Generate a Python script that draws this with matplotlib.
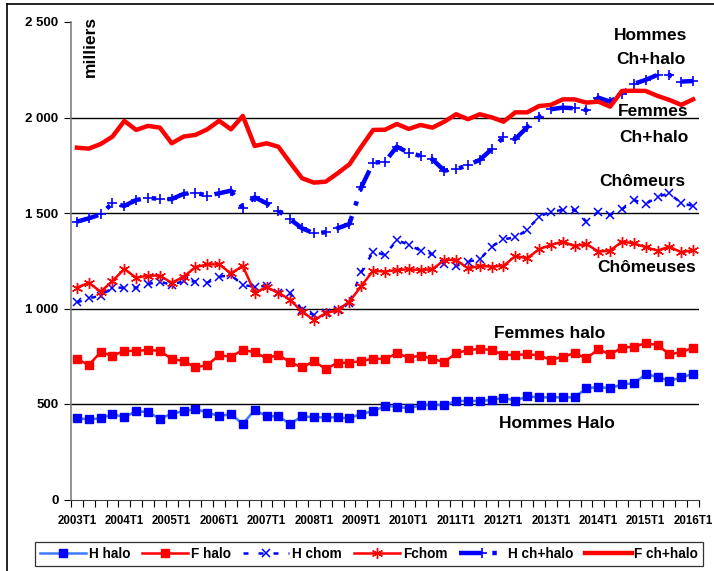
import numpy as np
import matplotlib
matplotlib.use('Agg')
import matplotlib.pyplot as plt
from matplotlib.lines import Line2D

plt.rcParams['font.family'] = ['Liberation Sans', 'DejaVu Sans']
plt.rcParams['font.weight'] = 'bold'

# quarters 2003T1 .. 2016T1
years = list(range(2003, 2017))
tick_labels = ['%dT1' % y for y in years]
n_q = 53

h_halo = [425, 420, 425, 446, 432, 462, 458, 423, 449, 462, 474, 455, 437, 447, 395, 469, 436, 436,
          395, 437, 430, 430, 430, 425, 449, 462, 490, 486, 477, 493, 497, 493, 516, 516, 516, 521,
          533, 517, 540, 535, 535, 535, 535, 582, 589, 582, 603, 608, 655, 643, 620, 640, 657]
f_halo = [736, 704, 771, 753, 778, 778, 783, 778, 736, 725, 692, 704, 755, 748, 783, 771, 739, 758,
          718, 692, 724, 683, 716, 716, 725, 737, 736, 765, 743, 753, 736, 720, 765, 783, 788, 783,
          757, 757, 760, 755, 730, 748, 765, 739, 786, 760, 795, 800, 818, 809, 760, 771, 795]
h_chom = [1032, 1053, 1067, 1109, 1109, 1109, 1128, 1141, 1123, 1144, 1141, 1135, 1166, 1175, 1123,
          1114, 1118, 1080, 1080, 992, 966, 978, 992, 1031, 1189, 1298, 1280, 1359, 1333, 1303, 1284,
          1233, 1223, 1245, 1257, 1324, 1362, 1373, 1411, 1481, 1507, 1516, 1516, 1455, 1507, 1490,
          1519, 1568, 1547, 1585, 1603, 1551, 1537]
f_chom = [1109, 1135, 1088, 1144, 1207, 1161, 1172, 1172, 1135, 1166, 1216, 1231, 1231, 1184, 1223,
          1083, 1111, 1083, 1045, 983, 940, 975, 992, 1036, 1118, 1198, 1193, 1202, 1205, 1202, 1205,
          1254, 1254, 1210, 1223, 1219, 1223, 1275, 1263, 1310, 1333, 1350, 1327, 1338, 1298, 1303,
          1350, 1341, 1321, 1303, 1324, 1294, 1306]
h_chhalo = [1455, 1472, 1493, 1551, 1537, 1568, 1580, 1573, 1573, 1600, 1606, 1591, 1603, 1617, 1525,
            1582, 1551, 1511, 1467, 1420, 1394, 1399, 1420, 1443, 1635, 1763, 1769, 1847, 1816, 1799,
            1781, 1722, 1729, 1751, 1778, 1834, 1897, 1888, 1949, 2001, 2043, 2052, 2048, 2039, 2104,
            2083, 2123, 2176, 2197, 2223, 2223, 2188, 2191]
f_chhalo = [1842, 1837, 1861, 1900, 1982, 1935, 1956, 1947, 1865, 1900, 1909, 1938, 1983, 1938, 2008,
            1851, 1865, 1847, 1763, 1682, 1659, 1664, 1708, 1755, 1847, 1935, 1936, 1966, 1940, 1961,
            1947, 1978, 2017, 1991, 2017, 2001, 1978, 2027, 2027, 2060, 2066, 2095, 2095, 2078, 2083,
            2057, 2139, 2140, 2139, 2113, 2092, 2066, 2095]

y_ticks = [0, 500, 1000, 1500, 2000, 2500]
y_tick_labels = ['0', '500', '1 000', '1 500', '2 000', '2 500']
grid_values = [500, 1000, 1500, 2000]

x = np.arange(n_q)

fig = plt.figure(figsize=(7.14, 5.71), dpi=100)
ax = fig.add_axes([71 / 714, 1 - 499.5 / 571, 628 / 714, (499.5 - 22) / 571])

for g in grid_values:
    ax.axhline(g, color='black', lw=1.0, zorder=0)

ax.plot(x, h_halo, color='#3d7bff', lw=1.8, marker='s', ms=5.5, mfc='#0000ff', mec='#0000ff',
        label='H halo', zorder=3)
ax.plot(x, f_halo, color='#ff0000', lw=1.8, marker='s', ms=5.5, mfc='#ff0000', mec='#ff0000',
        label='F halo', zorder=3)
ax.plot(x, h_chom, color='#0000ff', lw=1.8, ls=(0, (2, 4)), marker='x', ms=6, mew=1.1,
        label='H chom', zorder=3)
ax.plot(x, f_chom, color='#ff0000', lw=1.8, marker=(6, 2, 0), ms=8, mew=1.0, mec='#ff0000',
        label='Fchom', zorder=3)
ax.plot(x, h_chhalo, color='#0000ff', lw=3.2, ls=(0, (5, 2.5, 1, 2.5)), marker='+', ms=7, mew=1.2,
        label='H ch+halo', zorder=4)
ax.plot(x, f_chhalo, color='#ff0000', lw=3.2, label='F ch+halo', zorder=4)

ax.set_xlim(-0.5, n_q - 0.5)
ax.set_ylim(0, 2500)
ax.set_yticks(y_ticks)
ax.set_yticklabels(y_tick_labels, fontsize=9.5, fontweight='bold')
ax.set_xticks(np.arange(0, n_q, 4))
ax.set_xticklabels(tick_labels, fontsize=8.3, fontweight='bold')
ax.set_xticks(np.arange(-0.5, n_q, 1), minor=True)
ax.tick_params(axis='x', which='major', length=0, pad=11)
ax.tick_params(axis='x', which='minor', length=5, width=0.8, direction='out')
ax.tick_params(axis='y', length=5, width=0.8, direction='out', pad=4)

for s in ['top', 'right']:
    ax.spines[s].set_visible(False)
ax.spines['left'].set_color('#808080')
ax.spines['left'].set_linewidth(1.2)
ax.spines['bottom'].set_color('#404040')

lab = dict(fontsize=12.5, fontweight='bold', ha='center', va='center', transform=fig.transFigure)
def px(xp, yp):
    return xp / 714, 1 - yp / 571
fig.text(*px(90, 16), 'milliers', rotation=90, ha='center', va='top', fontsize=12.5,
         fontweight='bold', transform=fig.transFigure)
fig.text(*px(651, 35), 'Hommes', **lab)
fig.text(*px(651, 59), 'Ch+halo', **lab)
fig.text(*px(653, 112), 'Femmes', **lab)
fig.text(*px(654, 137), 'Ch+halo', **lab)
fig.text(*px(642, 182), 'Chômeurs', **lab)
fig.text(*px(647, 268), 'Chômeuses', **lab)
fig.text(*px(550, 333), 'Femmes halo', **lab)
fig.text(*px(557, 423), 'Hommes Halo', **lab)

# chart area border (top and left)
fig.add_artist(Line2D([7 / 714, 1], [1 - 4 / 571, 1 - 4 / 571], color='black', lw=1.2))
fig.add_artist(Line2D([7 / 714, 7 / 714], [0, 1 - 4 / 571], color='black', lw=1.2))

leg = fig.legend(loc='center', bbox_to_anchor=(35 / 714, 1 - 567 / 571, 668 / 714, 26 / 571),
                 mode='expand', ncol=6, frameon=True, fancybox=False, edgecolor='black',
                 handlelength=3.4, handletextpad=0.2, borderpad=0.35, borderaxespad=0,
                 prop={'weight': 'bold', 'size': 9.8})
leg.get_frame().set_linewidth(0.9)

fig.savefig('out.png', dpi=100)
